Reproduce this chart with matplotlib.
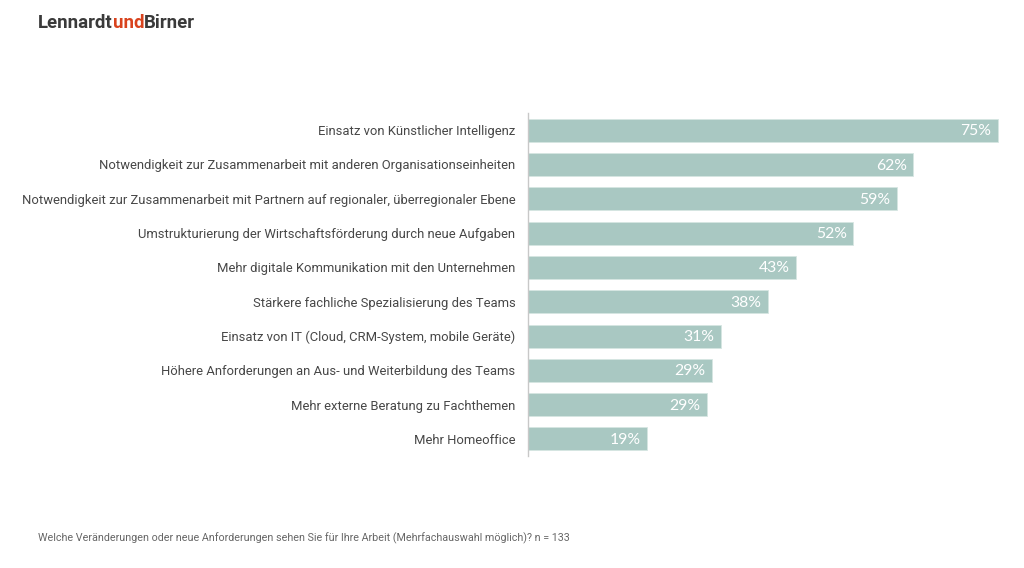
import matplotlib
matplotlib.use("Agg")
import matplotlib.pyplot as plt

categories = [
    "Einsatz von Künstlicher Intelligenz",
    "Notwendigkeit zur Zusammenarbeit mit anderen Organisationseinheiten",
    "Notwendigkeit zur Zusammenarbeit mit Partnern auf regionaler, überregionaler Ebene",
    "Umstrukturierung der Wirtschaftsförderung durch neue Aufgaben",
    "Mehr digitale Kommunikation mit den Unternehmen",
    "Stärkere fachliche Spezialisierung des Teams",
    "Einsatz von IT (Cloud, CRM-System, mobile Geräte)",
    "Höhere Anforderungen an Aus- und Weiterbildung des Teams",
    "Mehr externe Beratung zu Fachthemen",
    "Mehr Homeoffice",
]
values = [75, 62, 59, 52, 43, 38, 31, 29, 29, 19]
# shown labels are rounded, the bars are a bit more exact
bar_lengths = [75, 61.5, 58.9, 51.9, 42.8, 38.3, 30.8, 29.3, 28.5, 19]

footnote = "Welche Veränderungen oder neue Anforderungen sehen Sie für Ihre Arbeit (Mehrfachauswahl möglich)? n = 133"

BAR_COLOR = "#a9c8c2"
TEXT_COLOR = "#474747"

plt.rcParams["font.family"] = ["Roboto", "DejaVu Sans"]

fig = plt.figure(figsize=(10.24, 5.68), dpi=100)
ax = fig.add_axes([0.5156, 0.197, 0.465, 0.604])

ypos = list(range(len(categories)))
ax.barh(ypos, bar_lengths, height=0.67, color=BAR_COLOR,
        edgecolor="#d6e6e2", linewidth=0.6)

for y, length, v in zip(ypos, bar_lengths, values):
    ax.text(length - 1.0, y + 0.03, f"{v}%", ha="right", va="center",
            color="white", fontsize=11.3, family=["Lato", "DejaVu Sans"])

ax.set_yticks(ypos)
ax.set_yticklabels(categories, fontsize=9.4, color=TEXT_COLOR)
ax.tick_params(axis="y", length=0, pad=9)
ax.set_xticks([])
ax.set_xlim(0, 76)
ax.set_ylim(len(categories) - 0.5, -0.5)

for side in ["top", "right", "bottom"]:
    ax.spines[side].set_visible(False)
ax.spines["left"].set_color("#c8c8c8")
ax.spines["left"].set_linewidth(1)

# logo, three coloured parts chained after each other
t1 = fig.text(38 / 1024, 1 - 28 / 568, "Lennardt", fontsize=13.4,
              fontweight="bold", color="#3a3a3a", ha="left", va="baseline")
t2 = ax.annotate("und", xy=(1, 0), xycoords=t1, xytext=(0, 0),
                 textcoords="offset points", fontsize=13.4, fontweight="bold",
                 color="#d9431e", ha="left", va="bottom")
ax.annotate("Birner", xy=(1, 0), xycoords=t2, xytext=(0, 0),
            textcoords="offset points", fontsize=13.4, fontweight="bold",
            color="#3a3a3a", ha="left", va="bottom")

fig.text(38 / 1024, 1 - 538 / 568, footnote, fontsize=7.78, color="#666666",
         ha="left", va="center")

fig.savefig("out.png", dpi=100, facecolor="white")
